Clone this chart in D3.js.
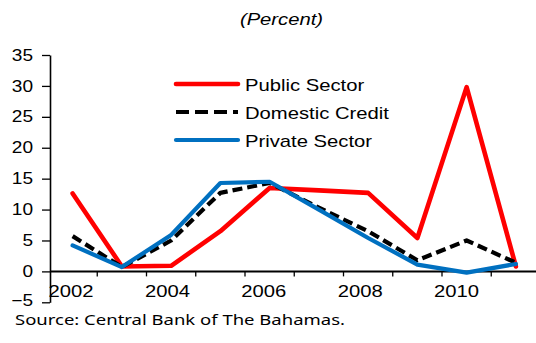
<!DOCTYPE html>
<html>
<head>
<meta charset="utf-8">
<script src="https://cdn.jsdelivr.net/npm/d3@7"></script>
<style>
  html, body { margin: 0; padding: 0; background: #fff; }
  svg { display: block; }
  text { font-family: "Liberation Sans", Arial, sans-serif; fill: #000; }
</style>
</head>
<body>
<svg id="chart" width="536" height="343"></svg>
<script>
// Growth in credit, per cent, 2002-2011
const years = [2002, 2003, 2004, 2005, 2006, 2007, 2008, 2009, 2010, 2011];
const publicSector   = [12.6, 0.8, 0.9, 6.5, 13.5, 13.1, 12.7, 5.4, 29.8, 0.8];
const domesticCredit = [5.7, 0.7, 5.0, 12.7, 14.3, 10.3, 6.5, 1.8, 5.0, 1.4];
const privateSector  = [4.2, 0.7, 5.9, 14.3, 14.5, 10.0, 5.4, 1.1, -0.2, 1.2];
const yTicks = [-5, 0, 5, 10, 15, 20, 25, 30, 35];
const labelYears = [2002, 2004, 2006, 2008, 2010];
const seriesNames = ["Public Sector", "Domestic Credit", "Private Sector"];

const svg = d3.select("#chart");
const STRETCH = 1.19; // horizontal stretch of the lettering

function stretch(sel, k) {
  sel.each(function () {
    const w = this.getComputedTextLength();
    d3.select(this).attr("textLength", w * k).attr("lengthAdjust", "spacingAndGlyphs");
  });
}

const x = d3.scaleBand().domain(years).range([48, 540.5]);
const bw = x.bandwidth();
const cx = d => x(d) + bw / 2;
const y = d3.scaleLinear().domain([-5, 35]).range([302.3, 55]);
const xLabel = d3.scaleLinear().domain([2002, 2010]).range([70.5, 456]);

// Title
svg.append("text")
  .attr("x", 281.5).attr("y", 25)
  .attr("text-anchor", "middle")
  .style("font-size", "17px").style("font-style", "italic")
  .text("(Percent)")
  .call(stretch, STRETCH);

// Y axis
const yAxis = svg.append("g")
  .attr("transform", "translate(50,0)")
  .call(d3.axisLeft(y).tickValues(yTicks).tickSize(8).tickPadding(9).tickSizeOuter(0));
yAxis.select(".domain").attr("stroke", "#000").attr("stroke-width", 1.6);
yAxis.selectAll(".tick line").attr("stroke", "#000").attr("stroke-width", 1.3);
yAxis.selectAll(".tick text")
  .style("font-size", "16px")
  .style("font-family", "'Liberation Sans', Arial, sans-serif")
  .call(stretch, STRETCH);
// bottom label sits a little above its tick
yAxis.selectAll(".tick text").filter(d => d === -5).attr("y", -2);

// Zero line and category ticks
svg.append("line")
  .attr("x1", 50).attr("x2", 536)
  .attr("y1", y(0)).attr("y2", y(0))
  .attr("stroke", "#000").attr("stroke-width", 2);
svg.append("g").selectAll("line")
  .data(years.slice(0, -1))
  .join("line")
  .attr("x1", d => x(d) + bw).attr("x2", d => x(d) + bw)
  .attr("y1", y(0)).attr("y2", y(0) + 5)
  .attr("stroke", "#000").attr("stroke-width", 1.3);

// Year labels
const xAxis = svg.append("g")
  .attr("transform", "translate(0,285)")
  .call(d3.axisBottom(xLabel).tickValues(labelYears).tickFormat(d3.format("d")).tickSize(0).tickPadding(0));
xAxis.select(".domain").remove();
xAxis.selectAll(".tick text")
  .style("font-size", "17px")
  .style("font-family", "'Liberation Sans', Arial, sans-serif")
  .call(stretch, STRETCH);

// Series lines
const line = d3.line().x((d, i) => cx(years[i])).y(d => y(d));
const styles = [
  { data: publicSector,   color: "#FF0000", width: 4.6, dash: null,   legendDash: null },
  { data: domesticCredit, color: "#000000", width: 4.2, dash: "10,5", legendDash: "13,6" },
  { data: privateSector,  color: "#0070C0", width: 4.2, dash: null,   legendDash: null }
];
svg.append("g").selectAll("path")
  .data(styles)
  .join("path")
  .attr("d", s => line(s.data))
  .attr("fill", "none")
  .attr("stroke", s => s.color)
  .attr("stroke-width", s => s.width)
  .attr("stroke-dasharray", s => s.dash)
  .attr("stroke-linejoin", "round")
  .attr("stroke-linecap", s => s.dash ? "butt" : "round");

// Legend
const legend = svg.append("g");
const rows = legend.selectAll("g")
  .data(styles)
  .join("g")
  .attr("transform", (s, i) => `translate(0,${84 + i * 28})`);
rows.append("line")
  .attr("x1", 176).attr("x2", 238)
  .attr("stroke", s => s.color)
  .attr("stroke-width", s => s.width)
  .attr("stroke-dasharray", s => s.legendDash)
  .attr("stroke-linecap", s => s.legendDash ? "butt" : "round");
rows.append("text")
  .attr("x", 245).attr("y", 6.5)
  .style("font-size", "17px")
  .text((s, i) => seriesNames[i])
  .call(stretch, STRETCH);

// Source note
svg.append("text")
  .attr("x", 15).attr("y", 325)
  .style("font-family", "'Noto Sans', 'Open Sans', sans-serif")
  .style("font-size", "15px")
  .attr("textLength", 330).attr("lengthAdjust", "spacingAndGlyphs")
  .text("Source: Central Bank of The Bahamas.");
</script>
</body>
</html>
